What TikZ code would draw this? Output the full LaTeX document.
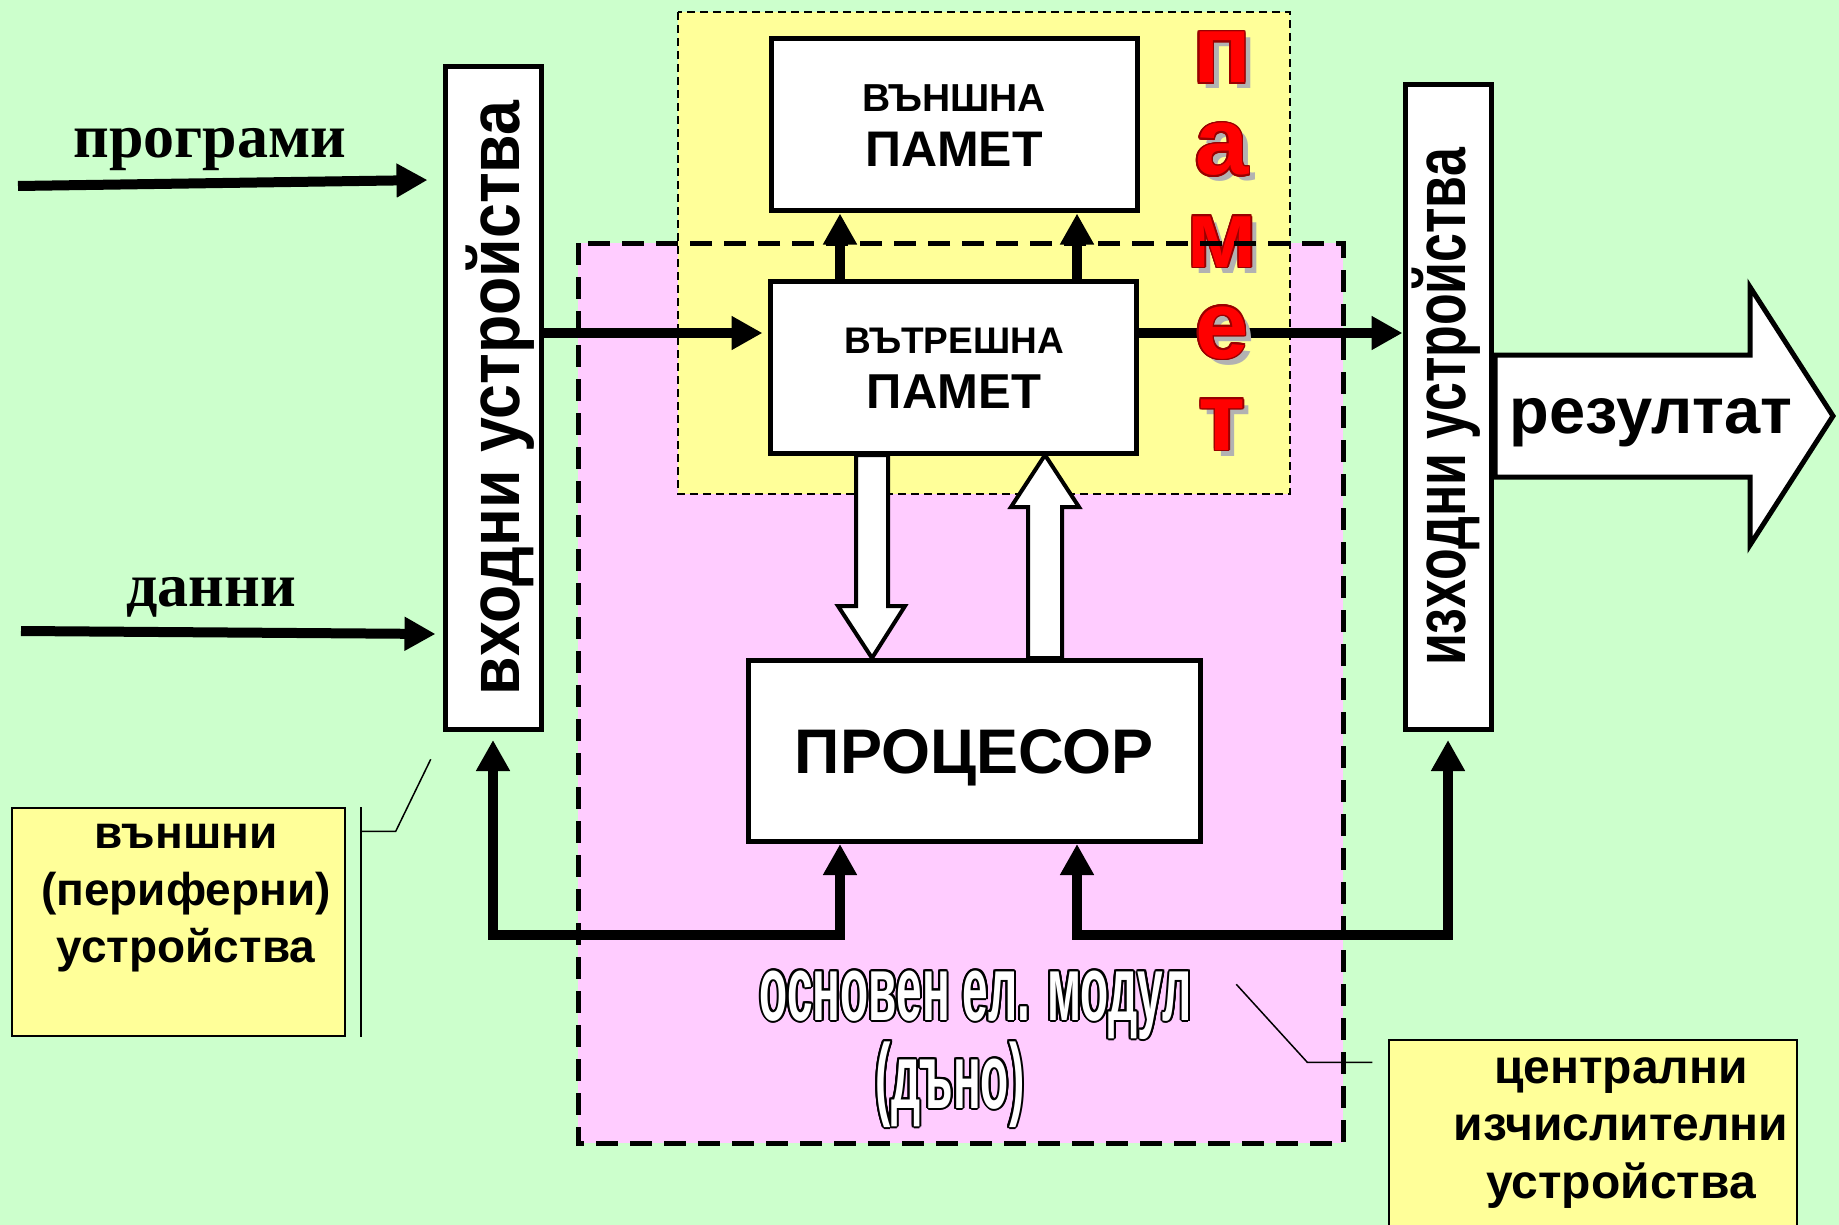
\documentclass[tikz,border=0pt]{standalone}
\usepackage{fontspec}
\setmainfont{Liberation Sans}
\newfontfamily\serifbold{Liberation Serif}
\newfontfamily\narrowin[FakeStretch=0.87]{Liberation Sans}
\newfontfamily\narrowout[FakeStretch=0.72]{Liberation Sans}
\newfontfamily\narrowboard[FakeStretch=0.5]{Liberation Sans}
\usepackage{contour}
\usetikzlibrary{arrows.meta,calc,positioning}

\definecolor{bggreen}{HTML}{CCFFCC}
\definecolor{memyellow}{HTML}{FFFF99}
\definecolor{boardpink}{HTML}{FFCCFF}
\definecolor{memred}{HTML}{FF0000}
\definecolor{memdark}{HTML}{990000}
\definecolor{memshadow}{HTML}{B2B2B2}

\newcommand{\memletter}[1]{\contourlength{1.5pt}\rlap{\hspace{6pt}\raisebox{-6pt}{\textcolor{memshadow}{#1}}}\contour{memdark}{\textcolor{memred}{#1}}}
\newcommand{\boardtext}[1]{\contourlength{2pt}\contour{black}{\textcolor{white}{#1}}}

\begin{document}
\begin{tikzpicture}[x=1pt,y=-1pt,
  unit/.style={draw,line width=5pt,fill=white,inner sep=0pt},
  note/.style={draw,line width=1.5pt,fill=memyellow,inner sep=0pt},
  flow/.style={line width=10pt,-{Triangle[length=31pt,width=32pt]}},
  bus/.style={line width=10pt,{Triangle[length=31pt,width=32pt]}-{Triangle[length=31pt,width=32pt]}},
  hollow/.style={draw,line width=4pt,fill=white},
  pointer/.style={line width=1.5pt},
  big/.style={font=\bfseries\fontsize{#1}{#1}\selectfont}]

\useasboundingbox (0,0) rectangle (1839,1225);
\fill[bggreen] (0,0) rectangle (1839,1225);

% areas
\fill[boardpink] (578,243) rectangle (1343,1143);
\filldraw[fill=memyellow,line width=1.5pt,dash pattern=on 8pt off 5pt] (678,12) rectangle (1290,494);

% units
\node[unit,minimum width=96,minimum height=663] (vhod) at (493,398) {};
\node[unit,minimum width=86,minimum height=645] (izhod) at (1448,407) {};
\node[unit,minimum width=366,minimum height=172] (vnsh) at (954,125) {};
\node[unit,minimum width=366,minimum height=172] (vnt) at (953,367) {};
\node[unit,minimum width=452,minimum height=181,big=63,text depth=0pt] (proc) at (974,751) {ПРОЦЕСОР};

\coordinate (inrow) at (0,333);
\coordinate (busrow) at (0,935);
\coordinate (colA) at (840,0);
\coordinate (colB) at (1077,0);

\node[big=39,anchor=base] at (954,112) {ВЪНШНА};
\node[big=50,anchor=base] at (954,167) {ПАМЕТ};
\node[big=37,anchor=base] at (954,353) {ВЪТРЕШНА};
\node[big=49,anchor=base] at (954,408) {ПАМЕТ};

\node[rotate=90,font=\narrowin\bfseries\fontsize{72}{72}\selectfont] at ([xshift=7pt]vhod.center) {входни устройства};
\node[rotate=90,font=\narrowout\bfseries\fontsize{72}{72}\selectfont] at ([xshift=-2pt]izhod.center) {изходни устройства};

\draw[flow] (vnt.east |- inrow) -- (izhod.west |- inrow);

% letters
\node[big=96,anchor=base] (letP) at (1222,83) {\memletter{п}};
\node[big=96,anchor=base] (letA) at (1222,175) {\memletter{а}};
\node[big=96,anchor=base] (letM) at (1222,267) {\memletter{м}};
\node[big=96,anchor=base] (letE) at (1222,358) {\memletter{е}};
\node[big=96,anchor=base] (letT) at (1222,450) {\memletter{т}};

\draw[line width=5pt,dash pattern=on 22pt off 12pt] (578,243) rectangle (1343,1143);

% connectors
\draw[flow,shorten >=5pt] (vhod.east |- inrow) -- (vnt.west |- inrow);
\draw[flow] (vnt.north -| colA) -- (vnsh.south -| colA);
\draw[flow] (vnt.north -| colB) -- (vnsh.south -| colB);
\draw[bus,shorten >=8pt] (proc.south -| colA) -- (colA |- busrow) -- (vhod.south |- busrow) -- (vhod.south);
\draw[bus,shorten >=8pt] (proc.south -| colB) -- (colB |- busrow) -- (izhod.south |- busrow) -- (izhod.south);

\draw[hollow] (856,455) -- (856,606) -- (838,606) -- (872,658) -- (905,606) -- (888,606) -- (888,455) -- cycle;
\draw[hollow] (1028,658) -- (1028,507) -- (1011,507) -- (1045,455) -- (1079,507) -- (1062,507) -- (1062,658) -- cycle;

\draw[hollow,line width=5pt] (1495,355) -- (1750,355) -- (1750,287) -- (1833,416) -- (1750,545) -- (1750,477) -- (1495,477) -- cycle;
\node[big=65,anchor=base] at (1651,433) {резултат};

% inputs
\node[font=\serifbold\bfseries\fontsize{62}{62}\selectfont,anchor=base] (prog) at (210,158) {програми};
\node[font=\serifbold\bfseries\fontsize{62}{62}\selectfont,anchor=base] (dan) at (211,606) {данни};
\coordinate (progin) at (18,186);
\coordinate (danin) at (21,631);
\draw[flow] (progin) -- ([yshift=6pt,xshift=-15pt]progin -| vhod.west);
\draw[flow] (danin) -- ([yshift=-3pt,xshift=-7pt]danin -| vhod.west);

\node[font=\narrowboard\bfseries\fontsize{92}{92}\selectfont,anchor=base] at (976,1020) {\boardtext{основен ел. модул}};
\node[font=\narrowboard\bfseries\fontsize{92}{92}\selectfont,anchor=base] at (950,1108) {\boardtext{(дъно)}};

% labels
\node[note,minimum width=333,minimum height=228] (vanshni) at (178.5,922) {};
\node[font=\bfseries\fontsize{46}{57}\selectfont,align=center] at (186,898) {външни\\(периферни)\\устройства};
\node[note,minimum width=408,minimum height=200] (centr) at (1593,1140) {};
\node[font=\bfseries\fontsize{48}{57.5}\selectfont,align=center] at (1621,1133) {централни\\изчислителни\\устройства};

\draw[pointer] ([xshift=15pt]vanshni.north east) -- ([xshift=15pt]vanshni.south east);
\draw[pointer] ([xshift=15pt]vanshni.north east) ++(0,24) -- ++(35,0) -- ++(35,-72);
\draw[pointer] ([xshift=-16pt]centr.north west) ++(0,23) -- ++(-65,0) -- ++(-71,-78);

\end{tikzpicture}
\end{document}
